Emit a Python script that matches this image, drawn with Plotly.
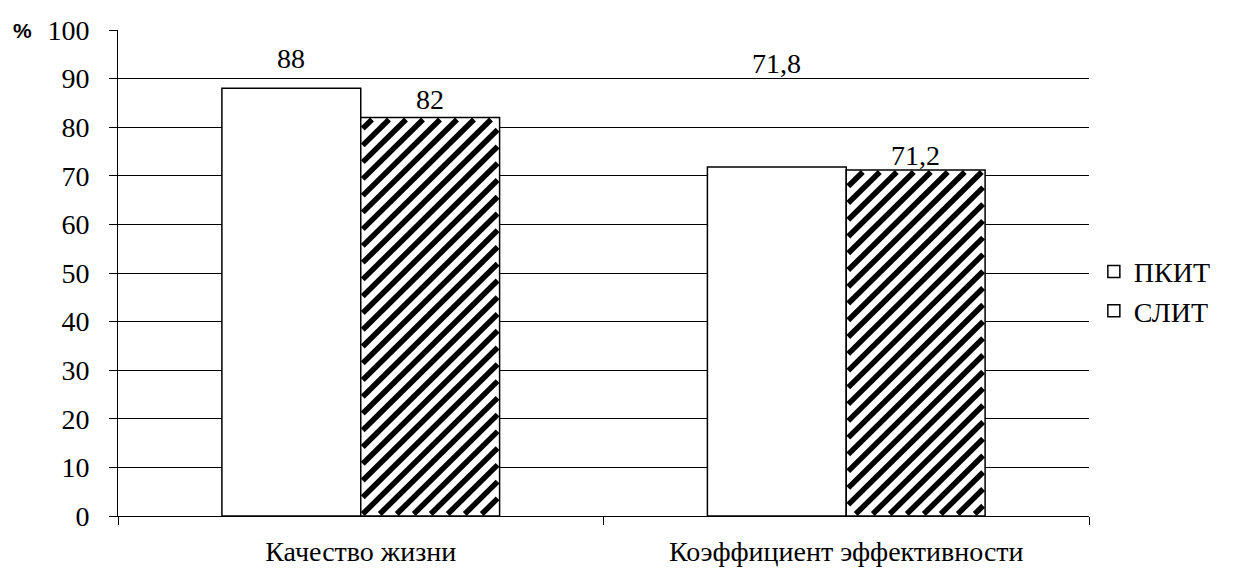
import math
import plotly.graph_objects as go

# Categories and series values
categories = ["Качество жизни", "Коэффициент эффективности"]
series_names = ["ПКИТ", "СЛИТ"]
pkit_values = [88, 71.8]
slit_values = [82, 71.2]
y_ticks = [0, 10, 20, 30, 40, 50, 60, 70, 80, 90, 100]

# Vertical placement of the value labels (in axis units)
label_y = {"ПКИТ": [94.1, 93.1], "СЛИТ": [85.6, 74.2]}

FS = 28
BARGAP = 0.428
W, H = 1243, 579
MARGIN = dict(l=118, r=154, t=30, b=56)
X_RANGE = [-0.5, len(categories) - 0.5]
Y_RANGE = [0, 100]

# Diagonal hatching of the second series (pixel spacing / stroke width)
HATCH_STEP = 17
HATCH_WIDTH = 5.5
HATCH_INSET = 2.0

fig = go.Figure()
fig.add_trace(go.Bar(
    name=series_names[0], x=categories, y=pkit_values,
    marker=dict(color="white", line=dict(color="black", width=1.5)),
))
fig.add_trace(go.Bar(
    name=series_names[1], x=categories, y=slit_values,
    marker=dict(color="white", line=dict(color="black", width=1.5)),
))

# 45-degree stripes inside each bar of the second series, built from its values
plot_w = W - MARGIN["l"] - MARGIN["r"]
plot_h = H - MARGIN["t"] - MARGIN["b"]
kx = plot_w / (X_RANGE[1] - X_RANGE[0])
ky = plot_h / (Y_RANGE[1] - Y_RANGE[0])
bar_w = (1 - BARGAP) / 2

hx, hy = [], []
for i, v in enumerate(slit_values):
    X0 = i * kx + HATCH_INSET
    X1 = (i + bar_w) * kx - HATCH_INSET
    Y0 = HATCH_INSET
    Y1 = v * ky - HATCH_INSET
    d = math.ceil((X0 - Y1) / HATCH_STEP) * HATCH_STEP
    while d < X1 - Y0:
        lo = max(X0, d + Y0)
        hi = min(X1, d + Y1)
        if hi > lo:
            hx += [lo / kx, hi / kx, None]
            hy += [(lo - d) / ky, (hi - d) / ky, None]
        d += HATCH_STEP

fig.add_trace(go.Scatter(
    x=hx, y=hy, xaxis="x2", yaxis="y", mode="lines",
    line=dict(color="black", width=HATCH_WIDTH),
    hoverinfo="skip", showlegend=False, connectgaps=False,
))


def fmt(v):
    s = f"{v:g}"
    return s.replace(".", ",")


offset = (1 - BARGAP) / 4
for s_idx, (name, vals) in enumerate(zip(series_names, [pkit_values, slit_values])):
    sign = -1 if s_idx == 0 else 1
    for i, v in enumerate(vals):
        fig.add_annotation(
            x=i + sign * offset, y=label_y[name][i], xref="x2", yref="y",
            text=fmt(v), showarrow=False, yanchor="middle", xanchor="center",
            font=dict(family="Times New Roman", size=FS, color="black"),
        )

fig.add_annotation(
    x=0, y=100, xref="paper", yref="y", text="<b>%</b>", showarrow=False,
    xanchor="right", yanchor="middle", xshift=-84,
    font=dict(family="Liberation Sans", size=21, color="black"),
)

fig.update_layout(width=W, height=H, plot_bgcolor="white",
                  font=dict(family="Times New Roman", size=FS, color="black"))
fig.update_layout(
    margin=MARGIN,
    barmode="group", bargap=BARGAP, bargroupgap=0,
    legend=dict(x=1.005, y=0.4625, xanchor="left", yanchor="middle"),
    xaxis=dict(
        range=X_RANGE, showline=True, linecolor="black", linewidth=1,
        ticks="outside", tickson="boundaries", ticklen=8, tickcolor="black",
        showgrid=False, ticklabelstandoff=10,
    ),
    xaxis2=dict(overlaying="x", anchor="y", range=X_RANGE, visible=False),
    yaxis=dict(
        range=Y_RANGE, tickvals=y_ticks, showline=True, linecolor="black", linewidth=1,
        ticks="outside", ticklen=8, tickcolor="black",
        showgrid=True, gridcolor="black", gridwidth=1, zeroline=False,
        ticklabelstandoff=14,
    ),
)

fig.write_html("out.html")
